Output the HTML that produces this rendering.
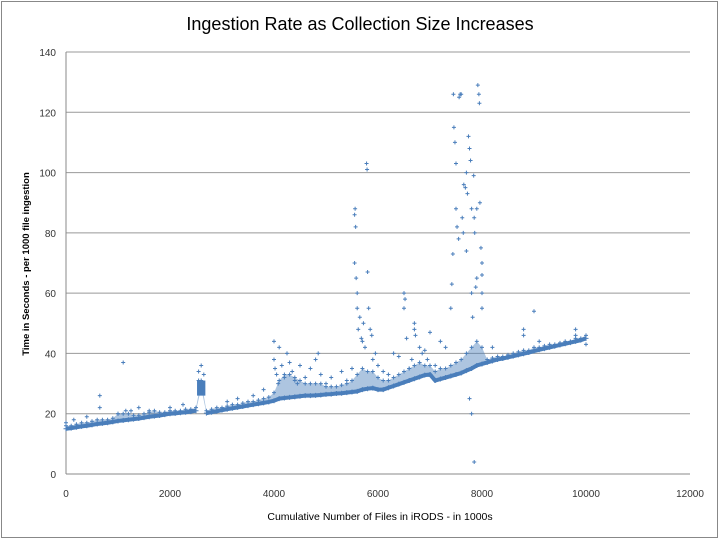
<!DOCTYPE html>
<html><head><meta charset="utf-8"><style>
html,body{margin:0;padding:0;background:#fff;}
#wrap{position:relative;width:720px;height:540px;overflow:hidden;}
svg text{font-family:"Liberation Sans",sans-serif;}
</style></head><body>
<div id="wrap">
<svg id="chart" width="720" height="540" xmlns="http://www.w3.org/2000/svg">
<rect x="1.5" y="1.5" width="716" height="536" fill="#fff" stroke="#888" stroke-width="1"/>
<text x="360" y="30" text-anchor="middle" font-size="18" fill="#000">Ingestion Rate as Collection Size Increases</text>
<g id="grid"></g>
<g id="yticks"></g>
<g id="xticks"></g>
<g id="series"></g>
<text transform="translate(29,264) rotate(-90)" text-anchor="middle" font-size="9.5" font-weight="bold" fill="#000">Time in Seconds - per 1000 file ingestion</text>
<text x="380" y="520" text-anchor="middle" font-size="10.5" fill="#000">Cumulative Number of Files in iRODS - in 1000s</text>
</svg>
</div>
<script>
const yTickValues=[0,20,40,60,80,100,120,140];
const xTickValues=[0,2000,4000,6000,8000,10000,12000];
const baselineStep=100;
const baselineValues=[15,15.2,15.5,15.8,16,16.3,16.6,16.8,17,17.3,17.6,
17.8,18,18.2,18.4,18.7,19,19.2,19.4,19.7,20,
20.1,20.3,20.5,20.7,21,28.5,20.2,20.5,20.8,21.2,
21.5,21.8,22.1,22.4,22.7,23,23.3,23.6,23.9,24.3,
25,25.2,25.4,25.6,25.8,26,26,26.1,26.2,26.4,
26.5,26.7,26.8,27,27.2,27.4,28,28.3,28.5,28,
28,28.6,29.2,29.8,30.4,31,31.6,32.2,32.8,33,
31,31.5,32,32.5,33,33.5,34.3,35,36,36.5,
37,37.5,38,38.3,38.7,39.1,39.5,39.9,40.3,40.8,
41.2,41.6,42,42.4,42.8,43.2,43.6,44,44.4,45];
const cloudTopValues=[16,16,16.5,17,17,17.5,18,18,18,18.5,20,
20,20,19.5,19.5,20,20.5,21,20.5,20.5,21,
21,21,21.5,21.5,22,31,21,21.5,22,22,
22.5,23,23,23.5,24,24,24.5,25,25.5,27,
31,33,33,32,31,30,30,30,30,29,
29,29,29.5,30,31,33,35,34,34,32,
31,31,32,33,34,35,36,37,36,36,
34,35,35,36,37,38,40,42,44,42,
38,38.5,39,39,39.5,40,40.5,41,41,42,
42,42.5,43,43,43.5,44,44,45,45,46];
const outlierPairs=[
[0,17],[150,18],[400,19],[650,22],[650,26],[1000,20],[1100,37],[1150,21],[1250,21],[1400,22],[1600,21],[2000,22],[2250,23],
[2550,34],[2550,31],[2600,36],[2650,33],
[3100,24],[3300,25],[3600,26],[3800,28],[4000,44],[4000,38],[4020,35],[4050,33],[4080,30],[4100,42],[4150,36],[4200,32],[4250,40],[4300,37],[4350,34],[4400,31],[4450,30],[4500,36],[4600,32],[4700,35],[4800,38],[4850,40],[4900,33],[5000,30],[5100,32],[5300,34],[5400,31],[5500,35],
[5550,70],[5550,86],[5560,88],[5570,82],[5580,65],[5600,60],[5600,55],[5620,48],[5650,52],[5680,45],[5700,44],[5720,50],[5750,42],[5780,103],[5790,101],[5800,67],[5820,55],[5850,48],[5880,46],[5900,38],[5950,40],
[6000,36],[6100,34],[6200,33],[6300,40],[6400,39],[6500,60],[6500,55],[6520,58],[6550,45],[6600,35],[6650,38],[6700,50],[6700,48],[6720,46],[6800,42],[6850,40],[6900,41],[6950,38],[7000,47],[7100,36],[7200,44],[7300,42],
[7400,55],[7420,63],[7440,73],[7450,126],[7460,115],[7480,110],[7500,103],[7500,88],[7520,82],[7550,78],[7560,125],[7580,126],[7600,126],[7620,85],[7640,80],[7650,96],[7680,95],[7700,74],[7700,100],[7720,93],[7740,112],[7760,108],[7780,104],[7800,88],[7800,60],[7820,52],[7840,99],[7850,85],[7860,80],[7880,62],[7900,65],[7900,88],[7920,129],[7940,126],[7950,123],[7960,90],[7980,75],[8000,70],[8000,66],[8000,60],[8000,55],[7760,25],[7800,20],[7850,4],
[8200,42],[8800,48],[8800,46],[9000,54],[9100,44],[9800,48],[9800,46],[10000,43]];
const x0=66,x1=690,y0=474,y1=52,xMax=12000,yMax=140;
function xs(v){return x0+(v/xMax)*(x1-x0);}
function ys(v){return y0-(v/yMax)*(y0-y1);}
const NS="http://www.w3.org/2000/svg";
const grid=document.getElementById('grid'),yt=document.getElementById('yticks'),xt=document.getElementById('xticks'),ser=document.getElementById('series');
yTickValues.forEach(v=>{
  const l=document.createElementNS(NS,'line');
  l.setAttribute('x1',x0);l.setAttribute('x2',x1);l.setAttribute('y1',ys(v));l.setAttribute('y2',ys(v));
  l.setAttribute('stroke',v===0?'#888':'#999');l.setAttribute('stroke-width','1');
  
  
  grid.appendChild(l);
  const t=document.createElementNS(NS,'text');
  t.setAttribute('x',56);t.setAttribute('y',ys(v)+4);t.setAttribute('text-anchor','end');t.setAttribute('font-size','10');t.setAttribute('fill','#333');
  t.textContent=v;
  
  
  yt.appendChild(t);
});
const ax=document.createElementNS(NS,'line');
ax.setAttribute('x1',x0);ax.setAttribute('x2',x0);ax.setAttribute('y1',y1);ax.setAttribute('y2',y0);ax.setAttribute('stroke','#888');


grid.appendChild(ax);
xTickValues.forEach(v=>{
  const t=document.createElementNS(NS,'text');
  t.setAttribute('x',xs(v));t.setAttribute('y',497);t.setAttribute('text-anchor','middle');t.setAttribute('font-size','10');t.setAttribute('fill','#333');
  t.textContent=v;
  
  
  xt.appendChild(t);
});
const col='#4a7ebb';
function cross(x,y,s){
  const p=document.createElementNS(NS,'path');
  p.setAttribute('d',`M${x-s},${y}H${x+s}M${x},${y-s}V${y+s}`);
  p.setAttribute('stroke',col);p.setAttribute('stroke-width','1');p.setAttribute('fill','none');
  
  
  ser.appendChild(p);
}
let topPath='',botPath='';
baselineValues.forEach((v,i)=>{
  topPath+=(i===0?'M':'L')+xs(i*baselineStep)+','+ys(cloudTopValues[i]);
});
for(let i=baselineValues.length-1;i>=0;i--){
  botPath+='L'+xs(i*baselineStep)+','+ys(baselineValues[i]);
}
const cloud=document.createElementNS(NS,'path');
cloud.setAttribute('d',topPath+botPath+'Z');cloud.setAttribute('fill',col);cloud.setAttribute('fill-opacity','0.45');


ser.appendChild(cloud);
let d='';
baselineValues.forEach((v,i)=>{
  if(i===26||i===27){ d+=`M${xs(i*baselineStep)},${ys(v)}`; return; }
  d+=(d===''?'M':'L')+xs(i*baselineStep)+','+ys(v);
});
const band=document.createElementNS(NS,'path');
band.setAttribute('d',d);band.setAttribute('stroke',col);band.setAttribute('stroke-width','4');band.setAttribute('fill','none');


ser.appendChild(band);
baselineValues.forEach((v,i)=>{cross(xs(i*baselineStep),ys(v),2.5);});
cloudTopValues.forEach((v,i)=>{cross(xs(i*baselineStep),ys(v),2);});
const cl=document.createElementNS(NS,'rect');
cl.setAttribute('x',xs(2520));cl.setAttribute('y',ys(31));cl.setAttribute('width',xs(2680)-xs(2520));cl.setAttribute('height',ys(26)-ys(31));cl.setAttribute('fill',col);


ser.appendChild(cl);
outlierPairs.forEach(p=>{cross(xs(p[0]),ys(p[1]),2);});
</script>
</body></html>
